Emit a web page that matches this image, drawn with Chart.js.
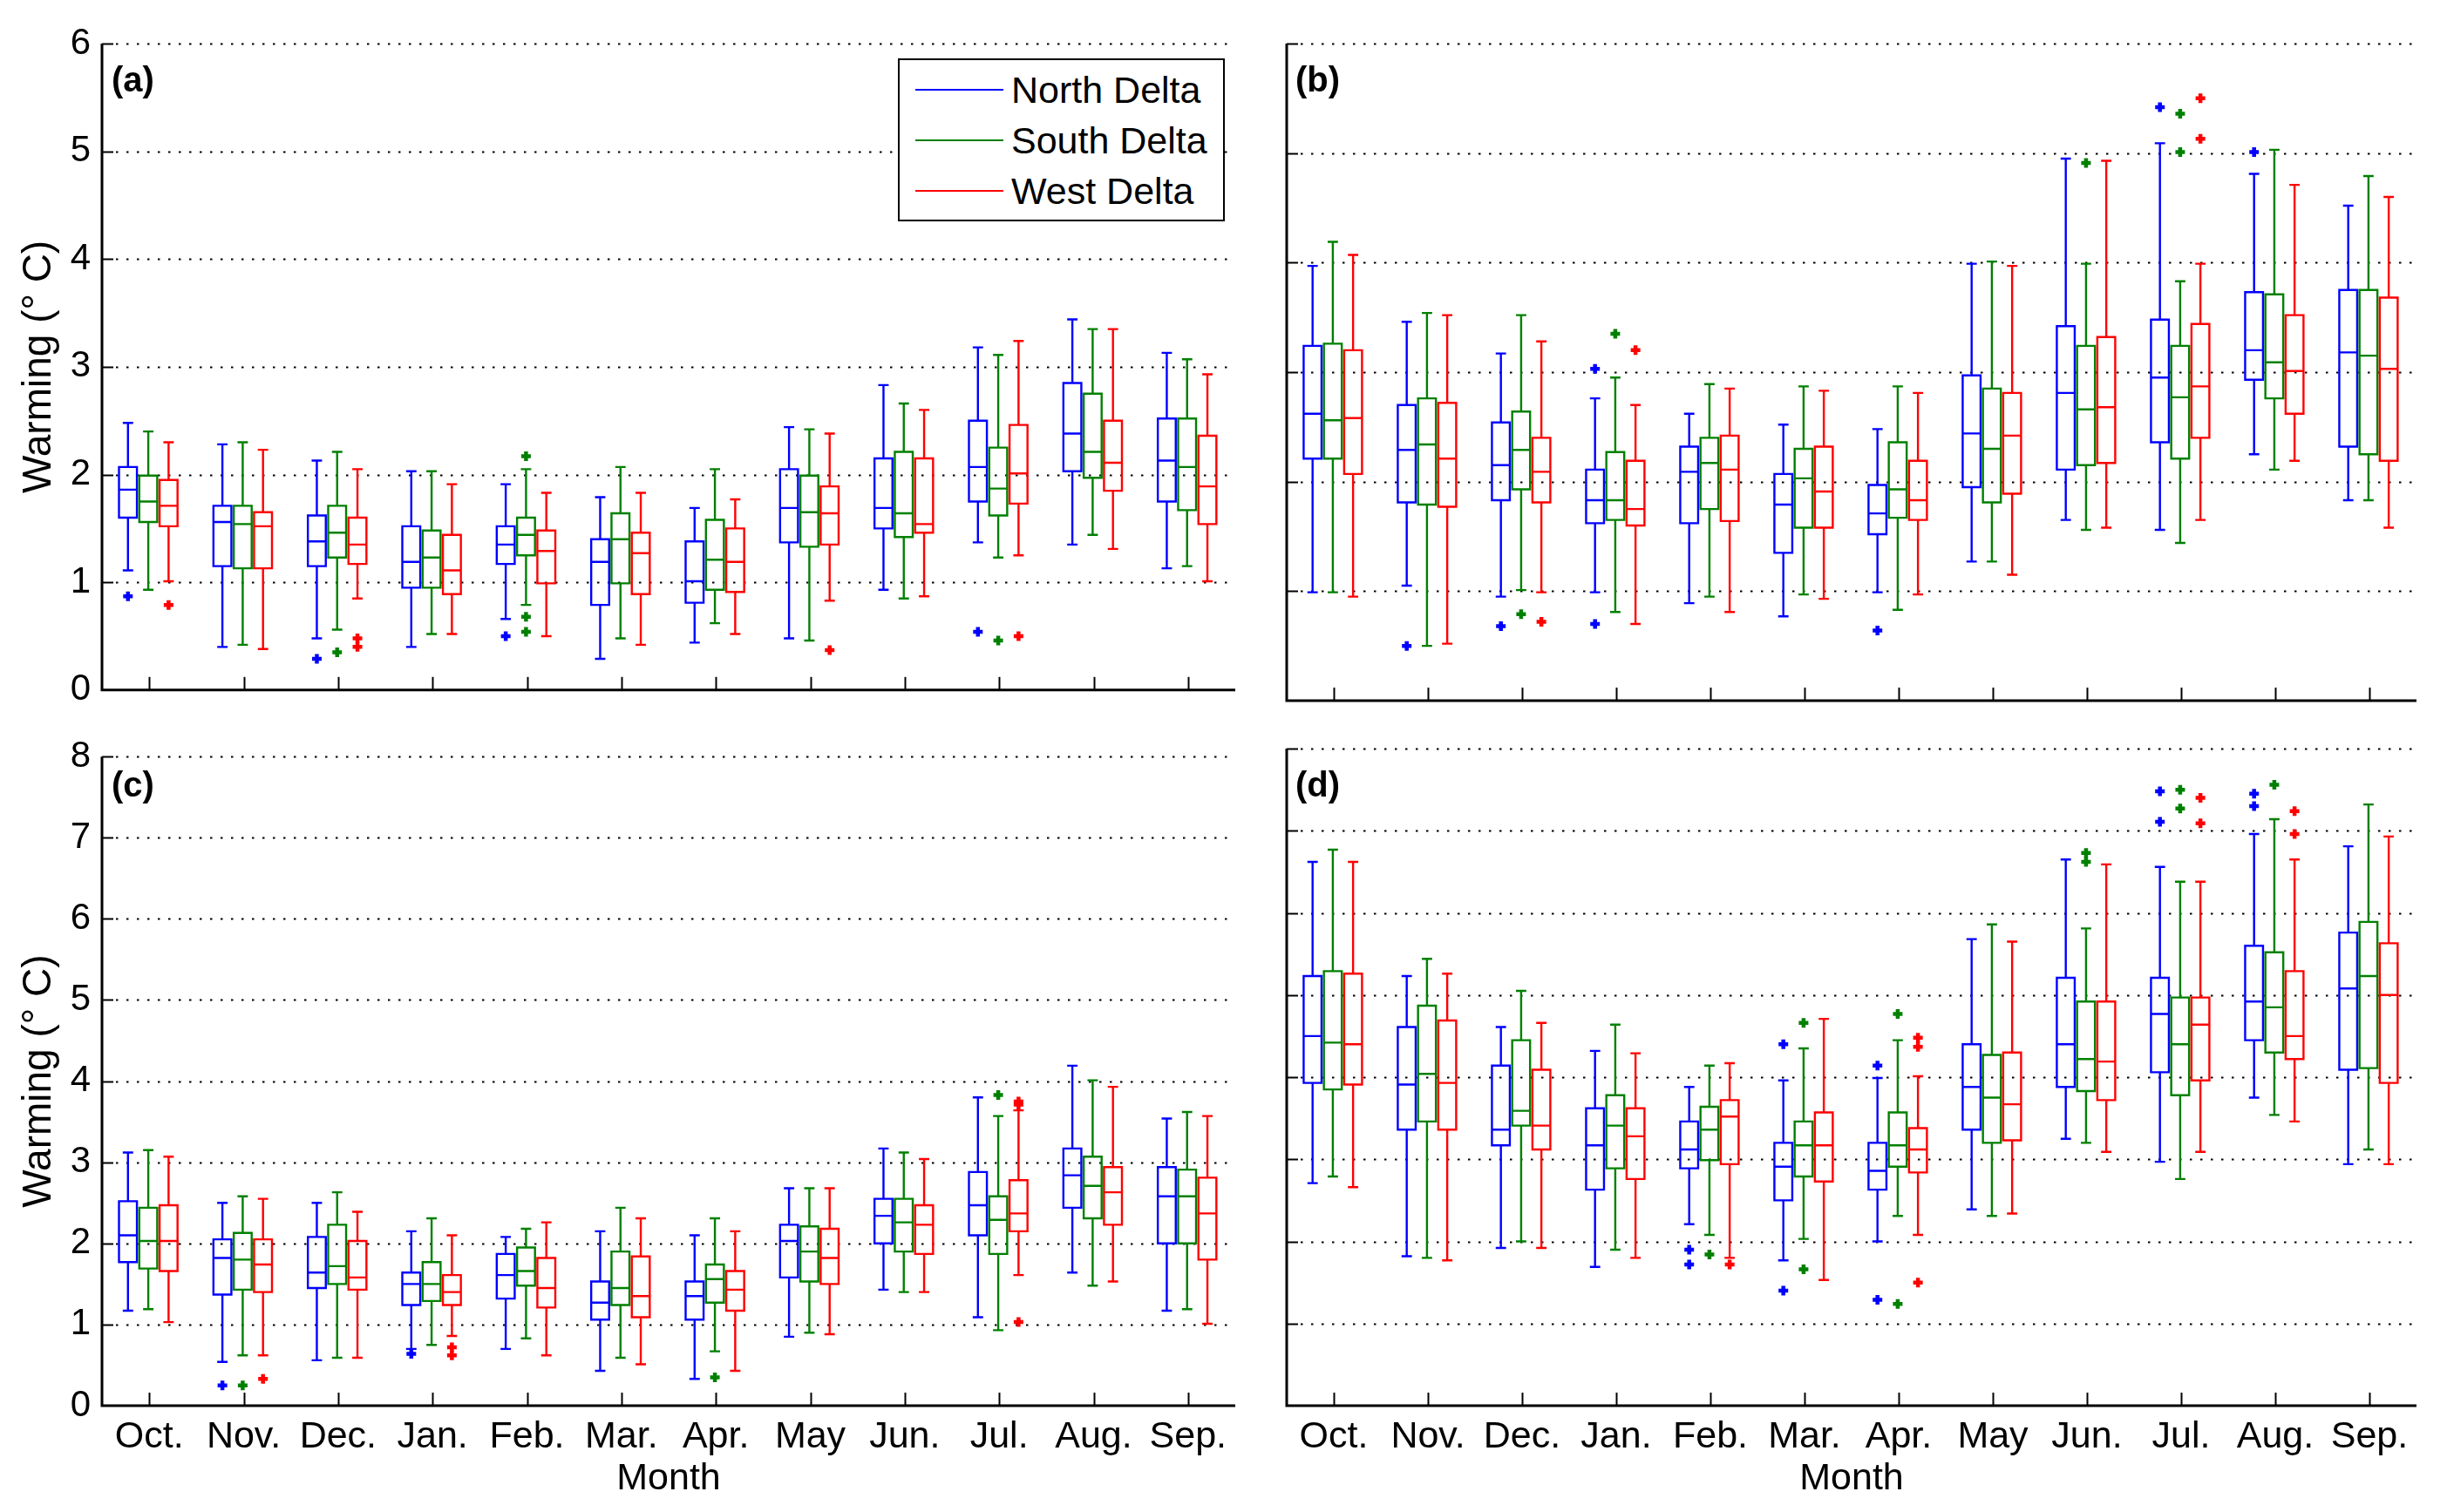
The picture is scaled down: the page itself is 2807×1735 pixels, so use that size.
<!DOCTYPE html>
<html>
<head>
<meta charset="utf-8">
<script src="https://cdn.jsdelivr.net/npm/chart.js@4.4.1/dist/chart.umd.min.js"></script>
<style>
  body { margin: 0; background: #fff; width: 2807px; height: 1735px; position: relative; overflow: hidden;
         font-family: "Liberation Sans", Arial, sans-serif; }
  canvas { position: absolute; }
  .tag { position: absolute; font-weight: bold; font-size: 40px; line-height: 40px; color: #000; }
  #legend { position: absolute; left: 1030px; top: 67px; width: 371px; height: 183px;
            border: 2px solid #000; background: #fff; }
  .row { position: absolute; left: 0; height: 50px; width: 100%; }
  .row span.ln { position: absolute; left: 18px; top: 24px; width: 101px; height: 2px; }
  .row span.tx { position: absolute; left: 128px; top: 0; font-size: 43px; line-height: 50px; color: #000; white-space: nowrap; }
</style>
</head>
<body>
<canvas id="pa" width="1440" height="830" style="left:0;top:0"></canvas>
<canvas id="pb" width="1367" height="830" style="left:1440px;top:0"></canvas>
<canvas id="pc" width="1440" height="905" style="left:0;top:830px"></canvas>
<canvas id="pd" width="1367" height="905" style="left:1440px;top:830px"></canvas>

<div class="tag" style="left:128px;top:71px">(a)</div>
<div class="tag" style="left:1486px;top:71px">(b)</div>
<div class="tag" style="left:128px;top:880px">(c)</div>
<div class="tag" style="left:1486px;top:880px">(d)</div>

<div id="legend"></div>

<script>
// === Data ===
const months = ["Oct.", "Nov.", "Dec.", "Jan.", "Feb.", "Mar.", "Apr.", "May", "Jun.", "Jul.", "Aug.", "Sep."];
const seriesNames = ["North Delta", "South Delta", "West Delta"];
const seriesColors = ["#0000ff", "#008000", "#ff0000"];

// each box: [lower whisker, q1, median, q3, upper whisker], Oct..Sep
const aNorth = [[1.11,1.60,1.86,2.07,2.48],[0.40,1.15,1.56,1.71,2.28],[0.48,1.15,1.38,1.62,2.13],[0.40,0.95,1.19,1.52,2.03],
  [0.66,1.17,1.35,1.52,1.91],[0.29,0.79,1.19,1.40,1.79],[0.44,0.81,1.01,1.38,1.69],[0.48,1.37,1.69,2.05,2.44],
  [0.93,1.50,1.69,2.15,2.83],[1.37,1.75,2.07,2.50,3.18],[1.35,2.03,2.38,2.85,3.44],[1.13,1.75,2.13,2.52,3.13]];
const aSouth = [[0.93,1.56,1.75,1.99,2.40],[0.42,1.13,1.54,1.71,2.30],[0.56,1.23,1.46,1.71,2.21],[0.52,0.95,1.23,1.48,2.03],
  [0.79,1.25,1.44,1.60,2.05],[0.48,0.99,1.40,1.64,2.07],[0.62,0.93,1.21,1.58,2.05],[0.46,1.33,1.65,1.99,2.42],
  [0.85,1.42,1.64,2.21,2.66],[1.23,1.62,1.87,2.25,3.11],[1.44,1.97,2.21,2.75,3.35],[1.15,1.67,2.07,2.52,3.07]];
const aWest = [[1.01,1.52,1.71,1.95,2.30],[0.38,1.13,1.52,1.65,2.23],[0.85,1.17,1.35,1.60,2.05],[0.52,0.89,1.11,1.44,1.91],
  [0.50,0.99,1.29,1.48,1.83],[0.42,0.89,1.27,1.46,1.83],[0.52,0.91,1.19,1.50,1.77],[0.83,1.35,1.64,1.89,2.38],
  [0.87,1.46,1.54,2.15,2.60],[1.25,1.73,2.01,2.46,3.24],[1.31,1.85,2.11,2.50,3.35],[1.01,1.54,1.89,2.36,2.93]];

const bNorth = [[0.99,2.21,2.62,3.24,3.97],[1.05,1.81,2.29,2.70,3.46],[0.95,1.83,2.15,2.54,3.17],[0.99,1.62,1.83,2.11,2.76],
  [0.89,1.62,2.09,2.32,2.62],[0.77,1.35,1.79,2.07,2.52],[0.99,1.52,1.71,1.97,2.48],[1.27,1.95,2.44,2.97,3.99],
  [1.65,2.11,2.81,3.42,4.95],[1.56,2.36,2.95,3.48,5.09],[2.25,2.93,3.20,3.73,4.81],[1.83,2.32,3.18,3.75,4.52]];
const bSouth = [[0.99,2.21,2.56,3.26,4.19],[0.50,1.79,2.34,2.76,3.54],[1.01,1.93,2.29,2.64,3.52],[0.81,1.65,1.83,2.27,2.95],
  [0.95,1.75,2.17,2.40,2.89],[0.97,1.58,2.03,2.30,2.87],[0.83,1.67,1.93,2.36,2.87],[1.27,1.81,2.30,2.85,4.01],
  [1.56,2.15,2.66,3.24,3.99],[1.44,2.21,2.77,3.24,3.83],[2.11,2.76,3.09,3.71,5.03],[1.83,2.25,3.15,3.75,4.79]];
const bWest = [[0.95,2.07,2.58,3.20,4.07],[0.52,1.77,2.21,2.72,3.52],[0.99,1.81,2.09,2.40,3.28],[0.70,1.60,1.75,2.19,2.70],
  [0.81,1.64,2.11,2.42,2.85],[0.93,1.58,1.91,2.32,2.83],[0.97,1.65,1.83,2.19,2.81],[1.15,1.89,2.42,2.81,3.97],
  [1.58,2.17,2.68,3.32,4.93],[1.65,2.40,2.87,3.44,3.99],[2.19,2.62,3.01,3.52,4.71],[1.58,2.19,3.03,3.68,4.60]];

const cNorth = [[1.17,1.77,2.10,2.52,3.12],[0.54,1.37,1.82,2.05,2.50],[0.56,1.45,1.64,2.08,2.50],[0.70,1.24,1.50,1.64,2.15],
  [0.70,1.32,1.61,1.87,2.08],[0.43,1.06,1.27,1.53,2.15],[0.33,1.06,1.35,1.53,2.10],[0.85,1.58,2.03,2.23,2.68],
  [1.43,2.00,2.34,2.55,3.17],[1.09,2.10,2.47,2.88,3.80],[1.64,2.44,2.84,3.17,4.19],[1.17,2.00,2.58,2.94,3.54]];
const cSouth = [[1.19,1.69,2.03,2.44,3.15],[0.62,1.43,1.80,2.13,2.58],[0.59,1.50,1.72,2.23,2.63],[0.75,1.29,1.50,1.77,2.31],
  [0.83,1.48,1.66,1.95,2.18],[0.59,1.24,1.45,1.90,2.44],[0.67,1.27,1.56,1.74,2.31],[0.90,1.53,1.90,2.21,2.68],
  [1.40,1.90,2.26,2.55,3.12],[0.93,1.87,2.29,2.58,3.57],[1.48,2.31,2.71,3.07,4.01],[1.19,2.00,2.58,2.91,3.62]];
const cWest = [[1.03,1.66,2.03,2.47,3.07],[0.62,1.40,1.74,2.05,2.55],[0.59,1.43,1.58,2.03,2.39],[0.86,1.24,1.40,1.61,2.10],
  [0.62,1.21,1.45,1.82,2.26],[0.51,1.09,1.35,1.84,2.31],[0.43,1.17,1.43,1.66,2.15],[0.88,1.50,1.82,2.18,2.68],
  [1.40,1.87,2.23,2.47,3.04],[1.61,2.15,2.37,2.78,3.64],[1.53,2.23,2.63,2.94,3.93],[1.01,1.80,2.37,2.81,3.57]];

const dNorth = [[2.71,3.93,4.50,5.23,6.62],[1.82,3.36,3.91,4.61,5.23],[1.92,3.17,3.36,4.14,4.61],[1.69,2.63,3.17,3.62,4.32],
  [2.21,2.89,3.12,3.46,3.88],[1.77,2.50,2.91,3.20,3.96],[2.00,2.63,2.86,3.20,3.99],[2.39,3.36,3.88,4.40,5.68],
  [3.25,3.88,4.40,5.21,6.65],[2.97,4.06,4.77,5.21,6.56],[3.75,4.45,4.92,5.60,6.96],[2.94,4.09,5.08,5.76,6.81]];
const dSouth = [[2.79,3.85,4.42,5.29,6.77],[1.80,3.46,4.04,4.87,5.44],[2.00,3.41,3.59,4.45,5.05],[1.90,2.89,3.41,3.78,4.64],
  [2.08,2.99,3.36,3.64,4.14],[2.03,2.79,3.17,3.46,4.35],[2.31,2.91,3.17,3.57,4.45],[2.31,3.20,3.75,4.27,5.86],
  [3.20,3.83,4.22,4.92,5.81],[2.76,3.78,4.40,4.97,6.38],[3.54,4.30,4.85,5.52,7.14],[3.12,4.11,5.23,5.89,7.32]];
const dWest = [[2.66,3.91,4.40,5.26,6.62],[1.77,3.36,3.93,4.69,5.26],[1.92,3.12,3.41,4.09,4.66],[1.80,2.76,3.28,3.62,4.29],
  [1.80,2.94,3.52,3.72,4.17],[1.53,2.73,3.17,3.57,4.71],[2.08,2.84,3.12,3.38,4.01],[2.34,3.23,3.67,4.30,5.65],
  [3.09,3.72,4.19,4.92,6.59],[3.09,3.96,4.64,4.97,6.38],[3.46,4.22,4.50,5.29,6.65],[2.94,3.93,5.00,5.63,6.93]];

// outliers: [month number (1 = Oct.), value]
const aNorthOut = [[1,0.87],[3,0.29],[5,0.50],[10,0.54]];
const aSouthOut = [[3,0.35],[5,2.17],[5,0.68],[5,0.54],[10,0.46]];
const aWestOut  = [[1,0.79],[3,0.48],[3,0.40],[8,0.37],[10,0.50]];
const bNorthOut = [[2,0.50],[3,0.68],[4,3.03],[4,0.70],[7,0.64],[10,5.42],[11,5.01]];
const bSouthOut = [[3,0.79],[4,3.35],[9,4.91],[10,5.36],[10,5.01]];
const bWestOut  = [[3,0.72],[4,3.20],[10,5.50],[10,5.13]];
const cNorthOut = [[2,0.25],[4,0.64]];
const cSouthOut = [[2,0.25],[7,0.35],[10,3.83]];
const cWestOut  = [[2,0.33],[4,0.72],[4,0.62],[10,3.75],[10,3.71],[10,1.03]];
const dNorthOut = [[5,1.90],[5,1.72],[6,4.40],[6,1.40],[7,4.14],[7,1.29],[10,7.48],[10,7.11],[11,7.45],[11,7.30]];
const dSouthOut = [[5,1.84],[6,4.66],[6,1.66],[7,4.77],[7,1.24],[9,6.73],[9,6.62],[10,7.50],[10,7.27],[11,7.56]];
const dWestOut  = [[5,1.72],[7,4.48],[7,4.37],[7,1.50],[10,7.40],[10,7.09],[11,7.24],[11,6.96]];

// === Styling ===
const offsets = [-0.225, -0.01, 0.205];   // box position inside a month
const boxHalf = 0.095;                    // half box width, in months
const capHalf = 0.055;
const FONT = "'Liberation Sans', Arial, sans-serif";

const panelBoxes = {
  pa: [aNorth, aSouth, aWest],
  pb: [bNorth, bSouth, bWest],
  pc: [cNorth, cSouth, cWest],
  pd: [dNorth, dSouth, dWest],
};

// draws dotted grid, axes, tick marks and the boxes with the chart's scales
const boxPlugin = {
  id: "boxes",
  beforeDatasetsDraw(chart) {
    const { ctx, chartArea: a, scales: { x, y } } = chart;
    const unit = x.getPixelForValue(1) - x.getPixelForValue(0);
    ctx.save();

    // dotted grid
    ctx.strokeStyle = "#000";
    ctx.lineWidth = 2;
    ctx.setLineDash([2.5, 9.5]);
    for (let v = 1; v <= y.max; v++) {
      const py = Math.round(y.getPixelForValue(v)) + 0.5;
      ctx.beginPath();
      ctx.moveTo(a.left + 16, py);
      ctx.lineTo(a.right, py);
      ctx.stroke();
    }
    ctx.setLineDash([]);

    // y tick marks
    for (let v = 1; v <= y.max; v++) {
      const py = Math.round(y.getPixelForValue(v)) + 0.5;
      ctx.beginPath();
      ctx.moveTo(a.left, py);
      ctx.lineTo(a.left + 13, py);
      ctx.stroke();
    }
    // x tick marks
    for (let m = 1; m <= months.length; m++) {
      const px = Math.round(x.getPixelForValue(m)) + 0.5;
      ctx.beginPath();
      ctx.moveTo(px, a.bottom);
      ctx.lineTo(px, a.bottom - 15);
      ctx.stroke();
    }
    // axes
    ctx.lineWidth = 3;
    ctx.beginPath();
    ctx.moveTo(a.left, a.top);
    ctx.lineTo(a.left, a.bottom);
    ctx.lineTo(a.right, a.bottom);
    ctx.stroke();

    // boxes
    ctx.lineWidth = 2.4;
    panelBoxes[chart.canvas.id].forEach((series, k) => {
      ctx.strokeStyle = seriesColors[k];
      series.forEach((b, i) => {
        const cx = x.getPixelForValue(i + 1 + offsets[k]);
        const [lo, q1, md, q3, hi] = b.map((v) => y.getPixelForValue(v));
        const bw = boxHalf * unit;
        const cw = capHalf * unit;
        ctx.beginPath();
        ctx.rect(cx - bw, q3, 2 * bw, q1 - q3);
        ctx.moveTo(cx - bw, md);
        ctx.lineTo(cx + bw, md);
        ctx.moveTo(cx, q3);
        ctx.lineTo(cx, hi);
        ctx.moveTo(cx - cw, hi);
        ctx.lineTo(cx + cw, hi);
        ctx.moveTo(cx, q1);
        ctx.lineTo(cx, lo);
        ctx.moveTo(cx - cw, lo);
        ctx.lineTo(cx + cw, lo);
        ctx.stroke();
      });
    });
    ctx.restore();
  },
};

function makePanel(id, ymax, outs, showY, showX, pad) {
  new Chart(document.getElementById(id), {
    type: "scatter",
    data: {
      datasets: outs.map((o, k) => ({
        label: seriesNames[k],
        data: o.map(([m, v]) => ({ x: m + offsets[k], y: v })),
        pointStyle: "cross",
        radius: 5.5,
        hoverRadius: 5.5,
        borderWidth: 4.5,
        borderColor: seriesColors[k],
        backgroundColor: seriesColors[k],
      })),
    },
    options: {
      responsive: false,
      animation: false,
      devicePixelRatio: 1,
      events: [],
      layout: { padding: pad },
      plugins: { legend: { display: false }, tooltip: { enabled: false } },
      scales: {
        x: {
          type: "linear",
          min: 0.5,
          max: 12.5,
          display: showX,
          grid: { display: false, drawTicks: false },
          border: { display: false },
          afterBuildTicks: (s) => { s.ticks = months.map((m, i) => ({ value: i + 1 })); },
          afterFit: (s) => { s.height = showX ? 122 : 0; },
          ticks: {
            autoSkip: false,
            maxRotation: 0,
            padding: 10,
            color: "#000",
            font: { family: FONT, size: 43 },
            callback: (v, i) => months[i],
          },
          title: {
            display: true,
            text: "Month",
            color: "#000",
            font: { family: FONT, size: 43 },
            padding: { top: 0, bottom: 12 },
          },
        },
        y: {
          min: 0,
          max: ymax,
          display: showY,
          grid: { display: false, drawTicks: false },
          border: { display: false },
          afterFit: (s) => { s.width = showY ? 117 : 0; },
          ticks: {
            stepSize: 1,
            padding: 13,
            color: "#000",
            font: { family: FONT, size: 42 },
          },
          title: {
            display: true,
            text: "Warming (° C)",
            color: "#000",
            font: { family: FONT, size: 46 },
            padding: { top: 18, bottom: 0 },
          },
        },
      },
    },
    plugins: [boxPlugin],
  });
}

makePanel("pa", 6, [aNorthOut, aSouthOut, aWestOut], true, false, { left: 0, top: 50, right: 23, bottom: 26 });
makePanel("pb", 6, [bNorthOut, bSouthOut, bWestOut], false, false, { left: 36, top: 50, right: 35, bottom: 26 });
makePanel("pc", 8, [cNorthOut, cSouthOut, cWestOut], true, true, { left: 0, top: 29, right: 23, bottom: 0 });
makePanel("pd", 8, [dNorthOut, dSouthOut, dWestOut], false, true, { left: 36, top: 29, right: 35, bottom: 0 });

// legend (panel a)
const legend = document.getElementById("legend");
seriesNames.forEach((name, k) => {
  const row = document.createElement("div");
  row.className = "row";
  row.style.top = (9 + k * 58) + "px";
  row.innerHTML = `<span class="ln" style="background:${seriesColors[k]}"></span><span class="tx">${name}</span>`;
  legend.appendChild(row);
});
</script>
</body>
</html>
